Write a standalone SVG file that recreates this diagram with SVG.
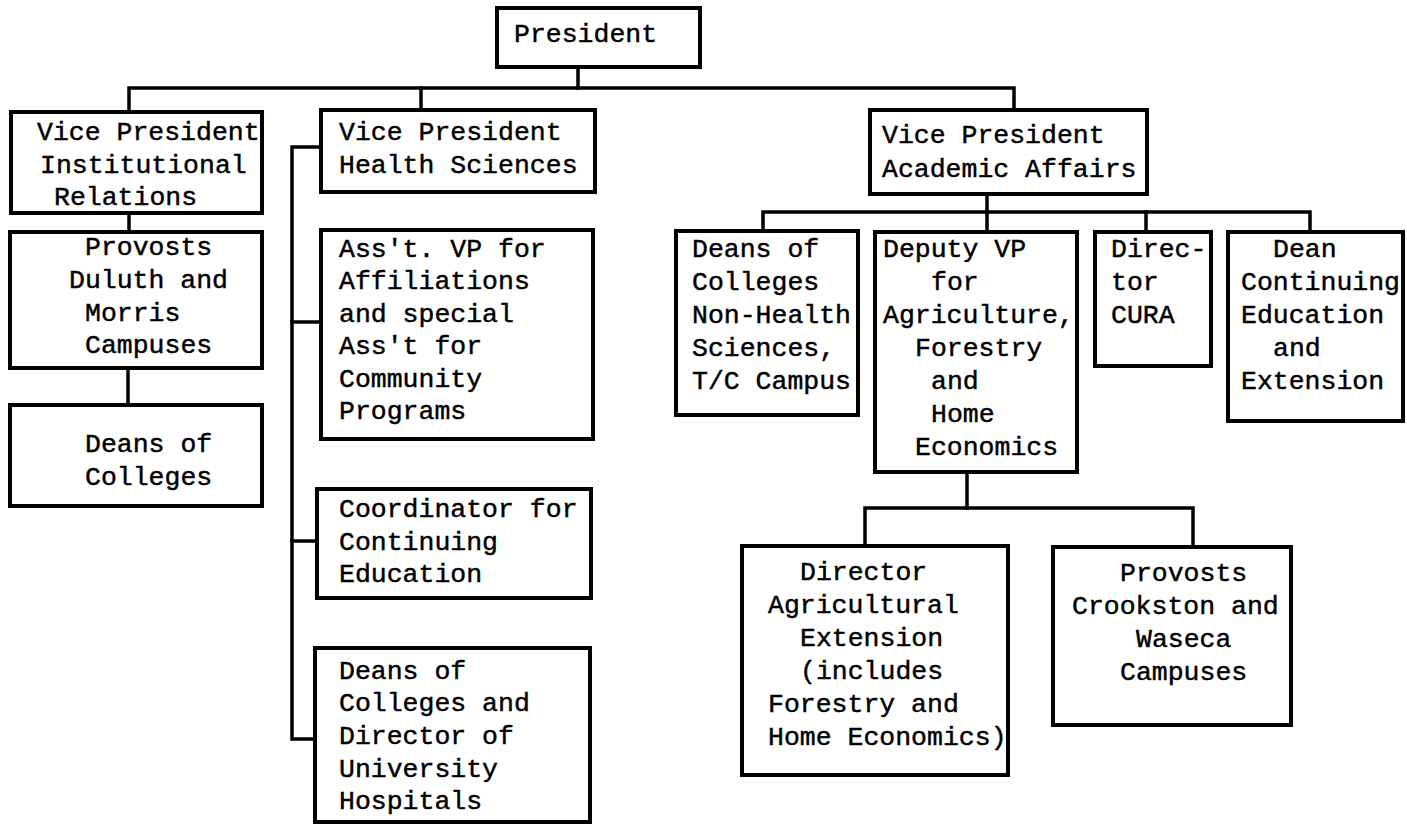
<svg xmlns="http://www.w3.org/2000/svg" width="1407" height="827" viewBox="0 0 1407 827">
  <style>
    .box { fill: #fff; stroke: #000; stroke-width: 4; }
    .wire { fill: none; stroke: #000; stroke-width: 3.5; stroke-linecap: square; }
    text { font-family: "Liberation Mono", "DejaVu Sans Mono", monospace; font-size: 26.5px; fill: #000; stroke: #000; stroke-width: 0.45; }
  </style>
  <rect width="1407" height="827" fill="#fff"/>

  <!-- reporting lines -->
  <g id="connectors">
    <path class="wire" d="M578 67 V88"/>
    <path class="wire" d="M129 112 V88 H1014 V110"/>
    <path class="wire" d="M421 88 V110"/>
    <path class="wire" d="M129 213 V232"/>
    <path class="wire" d="M128 368 V405"/>
    <path class="wire" d="M321 147 H292 V739 H315"/>
    <path class="wire" d="M292 322 H321"/>
    <path class="wire" d="M292 541 H317"/>
    <path class="wire" d="M987 194 V212"/>
    <path class="wire" d="M763 231 V212 H1310 V232"/>
    <path class="wire" d="M987 212 V232"/>
    <path class="wire" d="M1146 212 V232"/>
    <path class="wire" d="M967 472 V508"/>
    <path class="wire" d="M865 546 V508 H1193 V547"/>
  </g>

  <g id="president">
    <rect class="box" x="497" y="8" width="203" height="59"/>
    <text x="514" y="42">President</text>
  </g>

  <g id="vp-institutional-relations">
    <rect class="box" x="11" y="112" width="251" height="101"/>
    <text x="37" y="140">Vice President</text>
    <text x="40" y="173">Institutional</text>
    <text x="54" y="205">Relations</text>
  </g>

  <g id="provosts-duluth-morris">
    <rect class="box" x="10" y="232" width="252" height="136"/>
    <text x="85" y="255">Provosts</text>
    <text x="69" y="288">Duluth and</text>
    <text x="85" y="321">Morris</text>
    <text x="85" y="353">Campuses</text>
  </g>

  <g id="deans-of-colleges-coordinate">
    <rect class="box" x="10" y="405" width="252" height="101"/>
    <text x="85" y="452">Deans of</text>
    <text x="85" y="485">Colleges</text>
  </g>

  <g id="vp-health-sciences">
    <rect class="box" x="321" y="110" width="274" height="82"/>
    <text x="339" y="140">Vice President</text>
    <text x="339" y="173">Health Sciences</text>
  </g>

  <g id="asst-vp-affiliations">
    <rect class="box" x="321" y="230" width="272" height="209"/>
    <text x="339" y="257">Ass't. VP for</text>
    <text x="339" y="289">Affiliations</text>
    <text x="339" y="322">and special</text>
    <text x="339" y="354">Ass't for</text>
    <text x="339" y="387">Community</text>
    <text x="339" y="419">Programs</text>
  </g>

  <g id="coordinator-continuing-education">
    <rect class="box" x="317" y="489" width="274" height="109"/>
    <text x="339" y="517">Coordinator for</text>
    <text x="339" y="550">Continuing</text>
    <text x="339" y="582">Education</text>
  </g>

  <g id="deans-and-hospitals">
    <rect class="box" x="315" y="648" width="275" height="174"/>
    <text x="339" y="679">Deans of</text>
    <text x="339" y="711">Colleges and</text>
    <text x="339" y="744">Director of</text>
    <text x="339" y="777">University</text>
    <text x="339" y="809">Hospitals</text>
  </g>

  <g id="vp-academic-affairs">
    <rect class="box" x="870" y="110" width="277" height="84"/>
    <text x="882" y="143">Vice President</text>
    <text x="882" y="177">Academic Affairs</text>
  </g>

  <g id="deans-non-health">
    <rect class="box" x="676" y="231" width="182" height="184"/>
    <text x="692" y="257">Deans of</text>
    <text x="692" y="290">Colleges</text>
    <text x="692" y="323">Non-Health</text>
    <text x="692" y="356">Sciences,</text>
    <text x="692" y="389">T/C Campus</text>
  </g>

  <g id="deputy-vp-agriculture">
    <rect class="box" x="875" y="232" width="202" height="240"/>
    <text x="883" y="257">Deputy VP</text>
    <text x="931" y="290">for</text>
    <text x="883" y="323">Agriculture,</text>
    <text x="915" y="356">Forestry</text>
    <text x="931" y="389">and</text>
    <text x="931" y="422">Home</text>
    <text x="915" y="455">Economics</text>
  </g>

  <g id="director-cura">
    <rect class="box" x="1095" y="232" width="116" height="134"/>
    <text x="1111" y="257">Direc-</text>
    <text x="1111" y="290">tor</text>
    <text x="1111" y="323">CURA</text>
  </g>

  <g id="dean-continuing-education">
    <rect class="box" x="1228" y="232" width="175" height="189"/>
    <text x="1273" y="257">Dean</text>
    <text x="1241" y="290">Continuing</text>
    <text x="1241" y="323">Education</text>
    <text x="1273" y="356">and</text>
    <text x="1241" y="389">Extension</text>
  </g>

  <g id="director-agricultural-extension">
    <rect class="box" x="742" y="546" width="266" height="229"/>
    <text x="800" y="580">Director</text>
    <text x="768" y="613">Agricultural</text>
    <text x="800" y="646">Extension</text>
    <text x="800" y="679">(includes</text>
    <text x="768" y="712">Forestry and</text>
    <text x="768" y="745">Home Economics)</text>
  </g>

  <g id="provosts-crookston-waseca">
    <rect class="box" x="1053" y="547" width="238" height="178"/>
    <text x="1120" y="581">Provosts</text>
    <text x="1072" y="614">Crookston and</text>
    <text x="1136" y="647">Waseca</text>
    <text x="1120" y="680">Campuses</text>
  </g>
</svg>
